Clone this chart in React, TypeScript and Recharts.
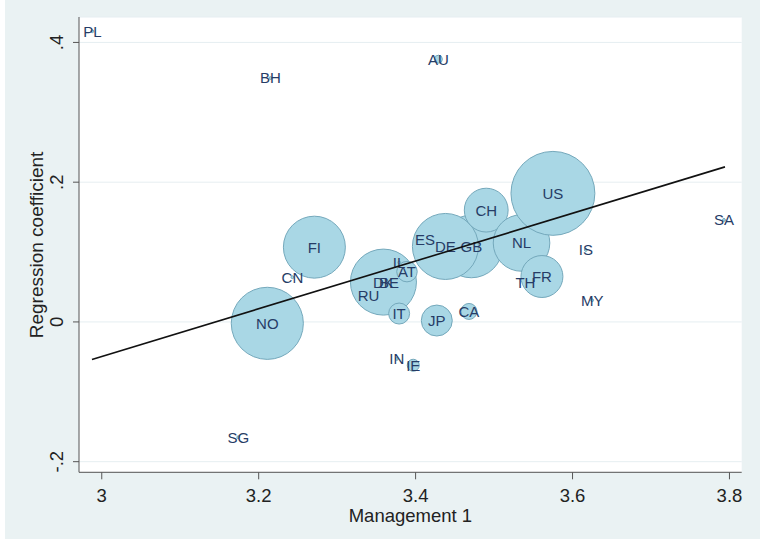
import React from 'react';
import { ScatterChart, Scatter, XAxis, YAxis, ZAxis, CartesianGrid } from 'recharts';

// country codes, listed in drawing order
const countries = [
  'PL', 'BH', 'AU', 'SG', 'CN', 'FI', 'NO', 'RU', 'BE', 'DK', 'IL', 'AT', 'IT', 'IN',
  'IE', 'JP', 'CA', 'ES', 'GB', 'DE', 'CH', 'NL', 'TH', 'FR', 'US', 'IS', 'MY', 'SA',
];
const management = [
  2.988, 3.215, 3.429, 3.174, 3.243, 3.271, 3.211, 3.340, 3.366, 3.359, 3.379, 3.389, 3.379, 3.376,
  3.397, 3.427, 3.468, 3.412, 3.471, 3.438, 3.490, 3.535, 3.540, 3.561, 3.575, 3.617, 3.625, 3.793,
];
const coefficient = [
  0.416, 0.349, 0.376, -0.165, 0.064, 0.107, -0.002, 0.037, 0.057, 0.057, 0.085, 0.072, 0.012, -0.053,
  -0.062, 0.002, 0.015, 0.118, 0.108, 0.108, 0.160, 0.113, 0.057, 0.065, 0.184, 0.103, 0.031, 0.146,
];
const weight = [
  2, 2, 16, 2, 2, 960, 1300, 2, 2, 1090, 2, 105, 110, 2,
  36, 240, 64, 2, 980, 1090, 480, 800, 2, 440, 1760, 2, 2, 2,
];

const xTicks = [3, 3.2, 3.4, 3.6, 3.8];
const yTicks = [-0.2, 0, 0.2, 0.4];

// fitted line end points
const fitX = [2.9875, 3.7943];
const fitY = [-0.0538, 0.2219];

const points = countries.map((code, i) => ({
  code,
  m: management[i],
  b: coefficient[i],
  w: weight[i],
}));
const fitLine = fitX.map((x, i) => ({ m: x, b: fitY[i] }));

const FONT = '"Liberation Sans", Arial, sans-serif';

const XTick = ({ x, payload }: any) => (
  <text x={x} y={501.5} textAnchor="middle" fontSize={18.5} fill="#222" fontFamily={FONT}>
    {payload.value}
  </text>
);

const YTick = ({ y, payload }: any) => {
  const v = payload.value;
  const txt = v === 0 ? '0' : String(v).replace('0.', '.');
  return (
    <text
      x={58}
      y={y}
      transform={`rotate(-90 58 ${y})`}
      textAnchor="middle"
      fontSize={18.5}
      fill="#222"
      fontFamily={FONT}
    >
      {txt}
    </text>
  );
};

const XTitle = () => (
  <text x={405.4} y={521.5} textAnchor="middle" fontSize={18.5} fill="#222" fontFamily={FONT}>
    Management 1
  </text>
);

const YTitle = () => (
  <text
    x={38}
    y={245}
    transform="rotate(-90 38 245)"
    textAnchor="middle"
    fontSize={19}
    fill="#222"
    fontFamily={FONT}
  >
    Regression coefficient
  </text>
);

const CountryLabel = (p: any) => (
  <text
    x={p.cx}
    y={p.cy}
    dy="0.36em"
    textAnchor="middle"
    fontSize={15}
    fill="#263c66"
    fontFamily={FONT}
  >
    {p.payload.code}
  </text>
);

export default function App() {
  return (
    <div
      style={{
        position: 'absolute',
        left: 5,
        top: 0,
        width: 755,
        height: 539,
        background: '#eaf2f3',
      }}
    >
      <ScatterChart width={755} height={539} margin={{ top: 17, right: 18.3, bottom: 0, left: 0 }}>
        <CartesianGrid vertical={false} stroke="#e6eef1" fill="#ffffff" fillOpacity={1} />
        <XAxis
          type="number"
          dataKey="m"
          domain={[2.971, 3.8156]}
          ticks={xTicks}
          allowDataOverflow
          height={66.7}
          stroke="#555"
          tickSize={7}
          tick={XTick}
          label={<XTitle />}
        />
        <YAxis
          type="number"
          dataKey="b"
          domain={[-0.2152, 0.4364]}
          ticks={yTicks}
          allowDataOverflow
          width={74}
          stroke="#555"
          tickSize={6}
          tick={YTick}
          label={<YTitle />}
        />
        <ZAxis type="number" dataKey="w" domain={[0, 1764]} range={[0, 5542]} />
        <Scatter data={points} fill="#a9d7e5" stroke="#74a8bb" strokeWidth={1} isAnimationActive={false} />
        <Scatter data={points} shape={CountryLabel} isAnimationActive={false} />
        <Scatter
          data={fitLine}
          line={{ stroke: '#111', strokeWidth: 1.6 }}
          shape={() => <g />}
          isAnimationActive={false}
        />
      </ScatterChart>
    </div>
  );
}
